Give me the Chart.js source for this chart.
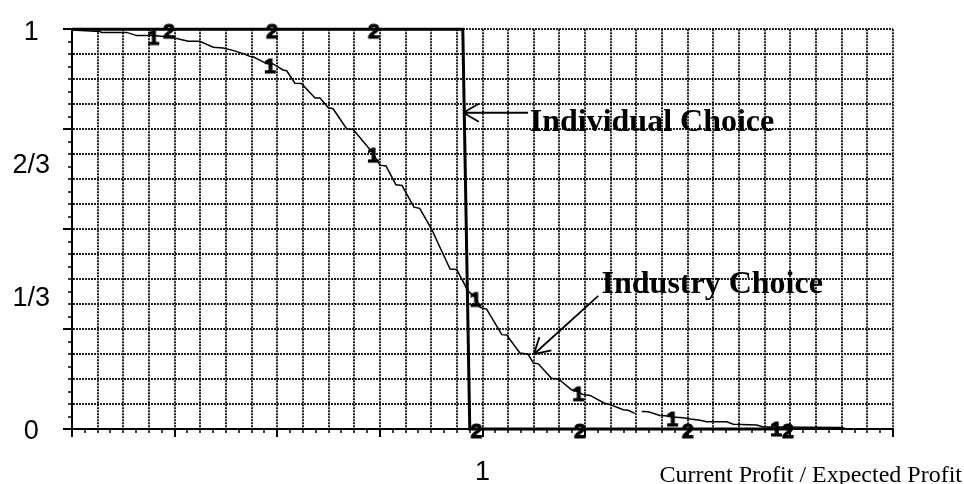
<!DOCTYPE html>
<html>
<head>
<meta charset="utf-8">
<title>Individual Choice vs Industry Choice</title>
<script src="https://cdn.jsdelivr.net/npm/chart.js@4.4.1/dist/chart.umd.min.js"></script>
<style>
  body { margin: 0; background: #fff; }
  canvas { display: block; }
</style>
</head>
<body>
<canvas id="grafico" width="964" height="484"></canvas>
<script>
// Industry Choice: share still producing vs current/expected profit
const industryX = [0, 0.068, 0.072, 0.133, 0.158, 0.198, 0.230, 0.250, 0.283, 0.311,
  0.344, 0.368, 0.392, 0.417, 0.433, 0.441, 0.474, 0.482, 0.490, 0.514,
  0.523, 0.543, 0.559, 0.592, 0.604, 0.624, 0.636, 0.669, 0.685, 0.733,
  0.750, 0.765, 0.789, 0.804, 0.833, 0.847, 0.877, 0.892, 0.921, 0.937,
  0.963, 0.969, 0.983, 0.994, 1.010, 1.047, 1.059, 1.091, 1.111, 1.124,
  1.136, 1.168, 1.185, 1.217, 1.233, 1.245, 1.262, 1.296, 1.311, 1.343,
  1.355, 1.371, 1.380, 1.388, 1.404, 1.432, 1.445, 1.462, 1.489, 1.506,
  1.530, 1.546, 1.595, 1.611, 1.668, 1.684, 1.715, 1.871, 1.883];
const industryY = [0.998, 0.994, 0.992, 0.992, 0.984, 0.984, 0.981, 0.978, 0.970, 0.970,
  0.955, 0.953, 0.947, 0.939, 0.932, 0.931, 0.914, 0.913, 0.913, 0.898,
  0.896, 0.865, 0.864, 0.828, 0.828, 0.804, 0.801, 0.751, 0.749, 0.690,
  0.660, 0.658, 0.611, 0.609, 0.555, 0.552, 0.498, 0.464, 0.400, 0.399,
  0.349, 0.341, 0.329, 0.304, 0.300, 0.236, 0.235, 0.190, 0.187, 0.165,
  0.163, 0.127, 0.125, 0.098, 0.093, 0.086, 0.084, 0.065, 0.061, 0.048,
  0.047, 0.039, null, 0.044, 0.043, 0.034, 0.033, 0.030, 0.028, 0.025,
  0.022, 0.018, 0.018, 0.012, 0.010, 0.005, 0.005, 0.004, 0.002];
const industryMarks = [5, 17, 29, 42, 54, 67, 76];

// Individual Choice: all or nothing around 1
const individualX = [0, 0.236, 0.487, 0.735, 0.952, 0.969, 0.985, 1.237, 1.365, 1.500, 1.744];
const individualY = [1, 1, 1, 1, 1, 0, 0, 0, 0, 0, 0];
const individualMarks = [1, 2, 3, 6, 7, 9, 10];

// tick labels
const yLabelValues = [0, 1 / 3, 2 / 3, 1];
const yLabelTexts = ['0', '1/3', '2/3', '1'];
const xLabelValues = [1];
const xLabelTexts = ['1'];

// annotations: text anchor and arrow (from -> tip), in data units
const noteTexts = ['Individual Choice', 'Industry Choice'];
const noteX = [1.115, 1.29];
const noteY = [0.746, 0.341];
const arrowFrom = [[1.111, 0.791], [1.282, 0.333]];
const arrowTo = [[0.953, 0.791], [1.125, 0.187]];

const xTitle = 'Current Profit / Expected Profit';

function onStep(v, n) {
    return Math.abs(v * n - Math.round(v * n)) < 1e-6;
}

function fineTicks(extra) {
    return (scale) => {
        const vals = [];
        for (let k = 0; k <= Math.round(scale.max * 32); k++) vals.push(k / 32);
        extra.forEach(v => { if (!vals.some(w => Math.abs(w - v) < 1e-9)) vals.push(v); });
        vals.sort((a, b) => a - b);
        scale.ticks = vals.map(v => ({ value: v }));
    };
}

function labelFor(values, texts) {
    return (value) => {
        const i = values.findIndex(v => Math.abs(v - value) < 1e-9);
        return i >= 0 ? texts[i] : '';
    };
}

// markers are the digits "1" and "2"
function glyph(ch) {
    const c = document.createElement('canvas');
    c.width = 22;
    c.height = 28;
    const g = c.getContext('2d');
    g.font = 'bold 21px "Liberation Sans"';
    g.textAlign = 'center';
    g.textBaseline = 'middle';
    g.fillStyle = '#000';
    g.strokeStyle = '#000';
    g.lineWidth = 1.2;
    g.fillText(ch, 11, 17);
    g.strokeText(ch, 11, 17);
    return c;
}
const mark1 = glyph('1');
const mark2 = glyph('2');

const gridColor = (ctx) => onStep(ctx.tick.value, 16) ? '#222' : 'rgba(0,0,0,0)';
const tickColor = (ctx) => onStep(ctx.tick.value, 32) ? '#000' : 'rgba(0,0,0,0)';

const notes = {
    id: 'notes',
    afterDatasetsDraw(chart) {
        const { ctx, scales: { x, y } } = chart;
        ctx.save();
        ctx.fillStyle = '#000';
        ctx.strokeStyle = '#000';
        ctx.font = 'bold 32px "Liberation Serif"';
        ctx.textAlign = 'left';
        ctx.textBaseline = 'alphabetic';
        noteTexts.forEach((t, i) => {
            ctx.fillText(t, x.getPixelForValue(noteX[i]), y.getPixelForValue(noteY[i]));
            const x1 = x.getPixelForValue(arrowFrom[i][0]);
            const y1 = y.getPixelForValue(arrowFrom[i][1]);
            const x2 = x.getPixelForValue(arrowTo[i][0]);
            const y2 = y.getPixelForValue(arrowTo[i][1]);
            const a = Math.atan2(y1 - y2, x1 - x2);
            ctx.lineWidth = 1.8;
            ctx.beginPath();
            ctx.moveTo(x1, y1);
            ctx.lineTo(x2, y2);
            [-0.52, 0.52].forEach(d => {
                ctx.moveTo(x2, y2);
                ctx.lineTo(x2 + 18 * Math.cos(a + d), y2 + 18 * Math.sin(a + d));
            });
            ctx.stroke();
        });
        // axis title sits on the same row as the "1" tick label
        ctx.font = '24px "Liberation Serif"';
        ctx.textAlign = 'right';
        ctx.fillText(xTitle, chart.width - 2, chart.height - 2.5);
        ctx.restore();
    }
};

new Chart(document.getElementById('grafico'), {
    type: 'line',
    data: {
        datasets: [{
            label: 'Individual Choice',
            data: individualX.map((v, i) => ({ x: v, y: individualY[i] })),
            borderColor: '#000',
            borderWidth: 3,
            tension: 0,
            clip: false,
            pointStyle: (ctx) => individualMarks.includes(ctx.dataIndex) ? mark2 : 'circle',
            pointRadius: (ctx) => individualMarks.includes(ctx.dataIndex) ? 6 : 0
        }, {
            label: 'Industry Choice',
            data: industryX.map((v, i) => ({ x: v, y: industryY[i] })),
            borderColor: '#000',
            borderWidth: 1.5,
            tension: 0,
            spanGaps: false,
            clip: false,
            pointStyle: (ctx) => industryMarks.includes(ctx.dataIndex) ? mark1 : 'circle',
            pointRadius: (ctx) => industryMarks.includes(ctx.dataIndex) ? 6 : 0
        }]
    },
    options: {
        responsive: false,
        animation: false,
        layout: { padding: { left: 10, top: 22, right: 71, bottom: 0 } },
        plugins: {
            legend: { display: false },
            tooltip: { enabled: false }
        },
        scales: {
            x: {
                type: 'linear',
                position: 'bottom',
                min: 0,
                max: 2,
                afterBuildTicks: fineTicks(xLabelValues),
                afterFit: (scale) => { scale.height = 55; },
                border: { display: true, color: '#000', width: 2, dash: [2, 1] },
                grid: {
                    color: gridColor,
                    lineWidth: 2,
                    tickLength: 8,
                    tickColor: tickColor,
                    tickWidth: (ctx) => onStep(ctx.tick.value, 4) ? 2 : 1.5,
                    tickBorderDash: (ctx) => onStep(ctx.tick.value, 4) ? [] : [3, 20]
                },
                ticks: {
                    autoSkip: false,
                    maxRotation: 0,
                    minRotation: 0,
                    padding: 19,
                    color: '#000',
                    font: { family: '"Liberation Sans", Arial', size: 27 },
                    callback: labelFor(xLabelValues, xLabelTexts)
                }
            },
            y: {
                type: 'linear',
                position: 'left',
                min: 0,
                max: 1,
                afterBuildTicks: fineTicks(yLabelValues),
                afterFit: (scale) => { scale.width = 62; },
                border: { display: true, color: '#000', width: 2, dash: [2, 1] },
                grid: {
                    color: gridColor,
                    lineWidth: 2,
                    tickLength: 9,
                    tickColor: tickColor,
                    tickWidth: (ctx) => onStep(ctx.tick.value, 4) ? 2 : 1.5,
                    tickBorderDash: (ctx) => onStep(ctx.tick.value, 4) ? [] : [0, 5, 4, 0]
                },
                ticks: {
                    autoSkip: false,
                    crossAlign: 'center',
                    padding: 13,
                    labelOffset: 3,
                    color: '#000',
                    font: { family: '"Liberation Sans", Arial', size: 27 },
                    callback: labelFor(yLabelValues, yLabelTexts)
                }
            }
        }
    },
    plugins: [notes]
});
</script>
</body>
</html>
